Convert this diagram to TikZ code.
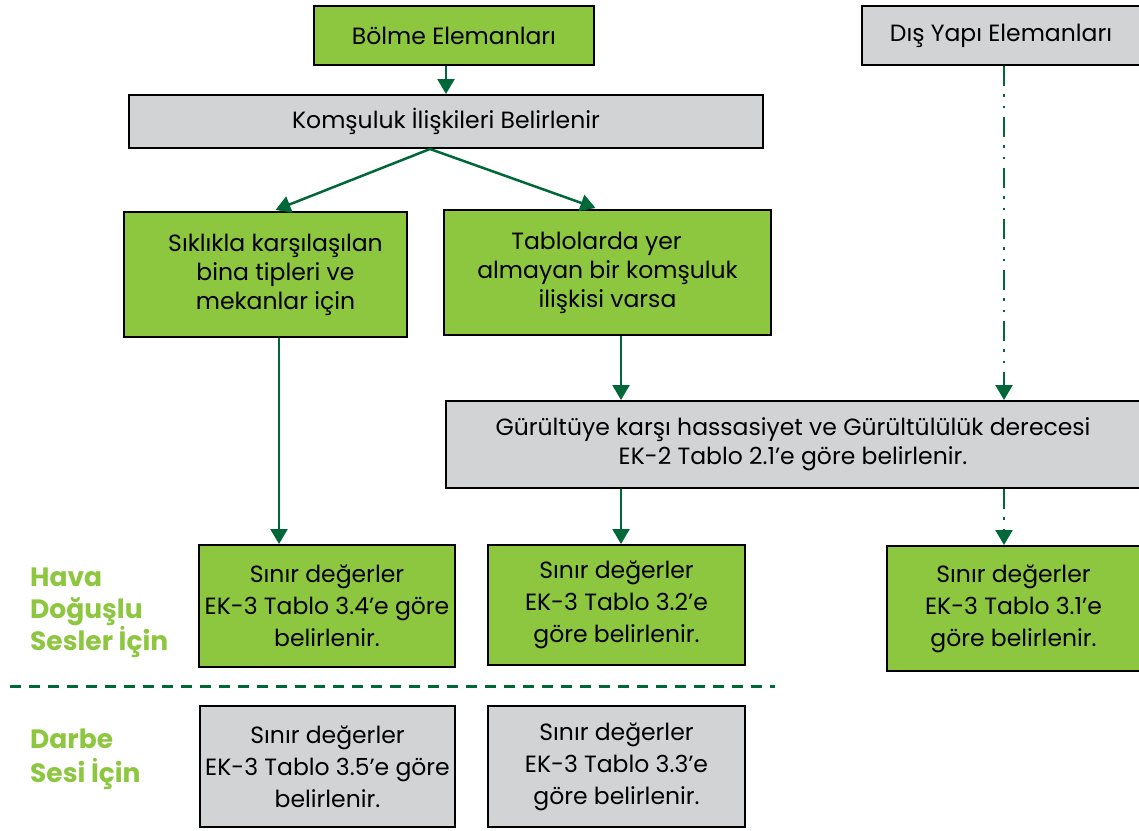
\documentclass[tikz,border=0pt]{standalone}
\usepackage{fontspec}
\setmainfont{Poppins}
\usetikzlibrary{arrows.meta,calc}
\definecolor{boxgreen}{HTML}{8DC63F}
\definecolor{boxgray}{HTML}{D1D3D4}
\definecolor{linegreen}{HTML}{006838}
\begin{document}
\begin{tikzpicture}[x=1pt,y=-1pt,
  box/.style={draw=black,line width=2pt,align=center,inner sep=0pt,
    font=\fontsize{23.5}{29}\selectfont},
  greenbox/.style={box,fill=boxgreen},
  graybox/.style={box,fill=boxgray},
  limitbox/.style={font=\fontsize{23.5}{32}\selectfont},
  flow/.style={draw=linegreen,line width=2.5pt,-{Triangle[width=17pt,length=15pt]}},
  dashdot/.style={flow,dash pattern=on 20pt off 8pt on 2.5pt off 9pt on 2.5pt off 9pt},
  sidelabel/.style={text=boxgreen,anchor=west,align=left,inner sep=0pt,
    font=\fontsize{26.5}{32}\selectfont\bfseries}]
\useasboundingbox (0,0) rectangle (1139,830);

% top row
\node[greenbox,minimum width=280pt,minimum height=59pt] (bolme) at (454,35.5) {Bölme Elemanları};
\node[graybox,minimum width=278pt,minimum height=59pt] (dis) at (1001,35.5) {Dış Yapı Elemanları};
\node[graybox,minimum width=634pt,minimum height=53pt] (koms) at (446,121.5) {Komşuluk İlişkileri Belirlenir};

% second row
\node[greenbox,minimum width=283pt,minimum height=125pt] (sik) at (265.5,274.5)
  {\hspace*{20pt}Sıklıkla karşılaşılan\\\hspace*{20pt}bina tipleri ve\\\hspace*{20pt}mekanlar için};
\node[greenbox,minimum width=327pt,minimum height=125pt] (tab) at (607.5,272.5)
  {Tablolarda yer\hspace*{22pt}\\almayan bir komşuluk\\ilişkisi varsa};

% noise sensitivity box
\node[graybox,minimum width=694pt,minimum height=87pt] (gur) at (793,444.5)
  {Gürültüye karşı hassasiyet ve Gürültülülük derecesi\\EK-2 Tablo 2.1’e göre belirlenir.};

% limit values, airborne sound
\node[greenbox,limitbox,minimum width=256pt,minimum height=122pt] (s34) at (327,606)
  {Sınır değerler\\EK-3 Tablo 3.4’e göre\\belirlenir.};
\node[greenbox,limitbox,minimum width=257pt,minimum height=120pt] (s32) at (616.5,605)
  {Sınır değerler\\EK-3 Tablo 3.2’e\\göre belirlenir.};
\node[greenbox,limitbox,minimum width=253pt,minimum height=125pt] (s31) at (1013.5,608.5)
  {Sınır değerler\\EK-3 Tablo 3.1’e\\göre belirlenir.};

% limit values, impact sound
\node[graybox,limitbox,minimum width=255pt,minimum height=121pt] (s35) at (327.5,766.5)
  {Sınır değerler\\EK-3 Tablo 3.5’e göre\\belirlenir.};
\node[graybox,limitbox,minimum width=257pt,minimum height=121pt] (s33) at (616.5,766.5)
  {Sınır değerler\\EK-3 Tablo 3.3’e\\göre belirlenir.};

% row labels
\node[sidelabel] (hava) at (30,613) {Hava\\Doğuşlu\\Sesler İçin};
\node[sidelabel,font=\fontsize{26.5}{34}\selectfont\bfseries] (darbe) at (30,759) {Darbe\\Sesi İçin};

% separator
\coordinate (sepL) at (10,686);
\coordinate (sepR) at (775,686);
\draw[linegreen,line width=3pt,dash pattern=on 11pt off 8pt] (sepL) -- (sepR);

% connector anchor points
\coordinate (kfork) at ($(koms.south)+(-16,0)$);
\coordinate (sikin) at ($(sik.north)+(10,-1)$);
\coordinate (tabin) at ($(tab.north)+(-12,-1)$);
\coordinate (sikout) at ($(sik.south)+(13.5,0)$);
\coordinate (tabout) at ($(tab.south)+(13.5,0)$);
\coordinate (s32in) at ($(s32.north)+(4.5,0)$);
\coordinate (disout) at ($(dis.south)+(3,0)$);

% connectors
\draw[flow] (koms.north |- bolme.south) -- (koms.north);
\draw[flow] (kfork) -- (sikin);
\draw[flow] (kfork) -- (tabin);
\draw[flow] (sikout) -- (sikout |- s34.north);
\draw[flow] (tabout) -- (tabout |- gur.north);
\draw[flow] (s32in |- gur.south) -- (s32in);
\draw[dashdot] (disout) -- (disout |- gur.north);
\draw[dashdot] (disout |- gur.south) -- (disout |- s31.north);
\end{tikzpicture}
\end{document}
